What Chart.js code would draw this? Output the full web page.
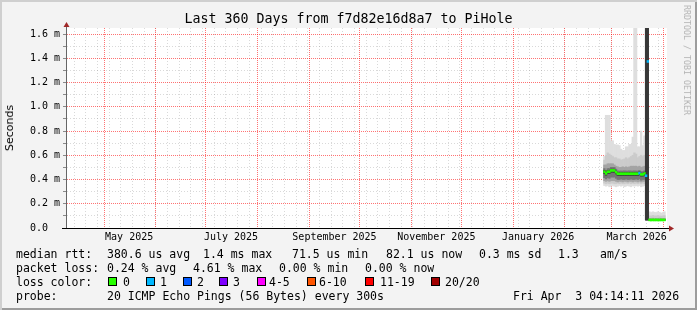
<!DOCTYPE html>
<html>
<head>
<meta charset="utf-8">
<title>Last 360 Days from f7d82e16d8a7 to PiHole</title>
<script src="https://cdn.jsdelivr.net/npm/chart.js@4.4.1/dist/chart.umd.min.js"></script>
<style>
  html, body { margin: 0; padding: 0; background: #f3f3f3; }
  #wrap { position: relative; width: 697px; height: 310px; background: #f3f3f3; overflow: hidden;
          box-shadow: inset 2px 2px 0 #cfcfcf, inset -2px -2px 0 #9c9c9c; }
  #chart { position: absolute; left: 0; top: 0; }
  .txt { position: absolute; font-family: "DejaVu Sans Mono", monospace; font-size: 11.5px; color: #000;
         white-space: pre; line-height: 14px; }
  #title { left: 0; top: 11px; width: 697px; text-align: center; font-size: 13.3px; line-height: 16px; }
  #ylab { font-family: "DejaVu Sans", sans-serif; font-size: 11px; left: 10px; top: 128px;
          transform: translate(-50%, -50%) rotate(-90deg); }
  #mark { font-size: 8.3px; color: #b4b4b4; left: 687px; top: 60px; line-height: 10px;
          transform: translate(-50%, -50%) rotate(90deg); }
  .box { position: absolute; width: 7px; height: 7px; border: 1px solid #000; }
</style>
</head>
<body>
<div id="wrap">
  <canvas id="chart" width="697" height="310"></canvas>
  <div class="txt" id="title">Last 360 Days from f7d82e16d8a7 to PiHole</div>
  <div class="txt" id="ylab">Seconds</div>
  <div class="txt" id="mark">RRDTOOL / TOBI OETIKER</div>

  <div class="txt" style="left:16px;top:247px">median rtt:</div>
  <div class="txt" style="left:107px;top:247px">380.6 us avg</div>
  <div class="txt" style="left:203px;top:247px">1.4 ms max</div>
  <div class="txt" style="left:292px;top:247px">71.5 us min</div>
  <div class="txt" style="left:386px;top:247px">82.1 us now</div>
  <div class="txt" style="left:479px;top:247px">0.3 ms sd</div>
  <div class="txt" style="left:558px;top:247px">1.3</div>
  <div class="txt" style="left:600px;top:247px">am/s</div>

  <div class="txt" style="left:16px;top:261px">packet loss:</div>
  <div class="txt" style="left:107px;top:261px">0.24 % avg</div>
  <div class="txt" style="left:193px;top:261px">4.61 % max</div>
  <div class="txt" style="left:279px;top:261px">0.00 % min</div>
  <div class="txt" style="left:365px;top:261px">0.00 % now</div>

  <div class="txt" style="left:16px;top:275px">loss color:</div>
  <div id="losslegend"></div>

  <div class="txt" style="left:16px;top:289px">probe:</div>
  <div class="txt" style="left:107px;top:289px">20 ICMP Echo Pings (56 Bytes) every 300s</div>
  <div class="txt" style="left:513px;top:289px">Fri Apr  3 04:14:11 2026</div>
</div>
<script>
// data: one value per day, days counted from the start of the 360 day window
const days = [322, 323, 324, 325, 326, 327, 328, 329, 330, 331, 332, 333, 334, 335, 336, 337, 338, 339, 340, 341,
              342, 343, 344, 345, 346, 347, 348, 349, 350, 351, 352, 353, 354, 355, 356, 357, 358];

const median = [0.464, 0.45, 0.464, 0.464, 0.475, 0.475, 0.475, 0.46, 0.448, 0.447, 0.448, 0.447, 0.448, 0.447, 0.448,
                0.447, 0.448, 0.447, 0.448, 0.447, 0.448, 0.452, 0.442, 0.442, 0.45, 0.431, 1.374,
                0.067, 0.066, 0.067, 0.066, 0.067, 0.066, 0.066, 0.067, 0.066, 0.067];
// index into lossColors
const loss = [0, 0, 0, 0, 0, 0, 0, 0, 0, 0, 0, 0, 0, 0, 0, 0, 0, 0, 0, 0, 0, 1, 0, 0, 0, 1, 1,
              0, 0, 0, 0, 0, 0, 0, 0, 0, 0];

// smoke: sorted ping percentiles
const rttMin = [0.35, 0.345, 0.35, 0.34, 0.345, 0.35, 0.345, 0.34, 0.345, 0.35, 0.345, 0.35, 0.34, 0.345, 0.35,
                0.345, 0.34, 0.35, 0.345, 0.35, 0.345, 0.35, 0.34, 0.345, 0.35, 0.066, 0.066,
                0.063, 0.063, 0.063, 0.063, 0.063, 0.063, 0.063, 0.063, 0.063, 0.063];
const rtt10 = [0.37, 0.365, 0.37, 0.365, 0.37, 0.37, 0.365, 0.365, 0.37, 0.365, 0.37, 0.365, 0.365, 0.37, 0.365,
               0.37, 0.365, 0.37, 0.365, 0.37, 0.365, 0.37, 0.365, 0.37, 0.365, 0.066, 0.066,
               0.064, 0.064, 0.064, 0.064, 0.064, 0.064, 0.064, 0.064, 0.064, 0.064];
const rtt25 = [0.39, 0.385, 0.39, 0.385, 0.39, 0.39, 0.39, 0.385, 0.38, 0.385, 0.385, 0.38, 0.385, 0.385, 0.38,
               0.385, 0.385, 0.38, 0.385, 0.385, 0.38, 0.385, 0.38, 0.385, 0.385, 0.066, 0.066,
               0.065, 0.065, 0.065, 0.065, 0.065, 0.065, 0.065, 0.065, 0.065, 0.065];
const rtt40 = [0.415, 0.405, 0.415, 0.41, 0.42, 0.42, 0.42, 0.41, 0.4, 0.4, 0.405, 0.4, 0.4, 0.405, 0.4,
               0.4, 0.405, 0.4, 0.4, 0.405, 0.4, 0.405, 0.395, 0.4, 0.4, 0.066, 0.066,
               0.065, 0.065, 0.065, 0.065, 0.065, 0.065, 0.065, 0.065, 0.065, 0.065];
const rtt45 = [0.45, 0.436, 0.45, 0.45, 0.46, 0.46, 0.46, 0.446, 0.434, 0.433, 0.434, 0.433, 0.434, 0.433, 0.434,
               0.433, 0.434, 0.433, 0.434, 0.433, 0.434, 0.438, 0.428, 0.428, 0.436, 0.066, 0.066,
               0.066, 0.066, 0.066, 0.066, 0.066, 0.066, 0.066, 0.066, 0.066, 0.066];
const rtt55 = [0.474, 0.46, 0.474, 0.474, 0.485, 0.485, 0.485, 0.47, 0.458, 0.457, 0.458, 0.457, 0.458, 0.457, 0.458,
               0.457, 0.458, 0.457, 0.458, 0.457, 0.458, 0.462, 0.452, 0.452, 0.46, 1.8, 1.8,
               0.068, 0.068, 0.068, 0.068, 0.068, 0.068, 0.068, 0.068, 0.068, 0.068];
const rtt60 = [0.49, 0.475, 0.49, 0.49, 0.5, 0.5, 0.5, 0.485, 0.47, 0.47, 0.47, 0.47, 0.472, 0.47, 0.47,
               0.472, 0.47, 0.47, 0.472, 0.47, 0.47, 0.475, 0.465, 0.465, 0.472, 1.8, 1.8,
               0.071, 0.07, 0.071, 0.07, 0.071, 0.07, 0.071, 0.07, 0.071, 0.07];
const rtt75 = [0.52, 0.52, 0.53, 0.53, 0.53, 0.53, 0.52, 0.51, 0.505, 0.5, 0.5, 0.505, 0.5, 0.505, 0.5,
               0.505, 0.51, 0.51, 0.51, 0.51, 0.505, 0.51, 0.5, 0.505, 0.51, 1.8, 1.8,
               0.08, 0.079, 0.081, 0.08, 0.079, 0.08, 0.081, 0.079, 0.08, 0.08];
const rtt90 = [0.56, 0.6, 0.62, 0.61, 0.6, 0.59, 0.58, 0.58, 0.57, 0.57, 0.56, 0.565, 0.57, 0.58, 0.57,
               0.58, 0.59, 0.6, 0.62, 0.61, 0.58, 0.59, 0.6, 0.59, 0.6, 1.8, 1.8,
               0.1, 0.098, 0.104, 0.1, 0.099, 0.103, 0.1, 0.097, 0.1, 0.102];
const rttMax = [0.59, 0.93, 0.93, 0.93, 0.72, 0.72, 0.69, 0.685, 0.685, 0.68, 0.65, 0.64, 0.64, 0.67, 0.67,
                0.69, 0.69, 0.75, 1.8, 1.8, 0.67, 0.67, 0.8, 0.68, 0.76, 1.8, 1.8,
                0.134, 0.128, 0.134, 0.13, 0.128, 0.134, 0.13, 0.122, 0.128, 0.134];

const lossLabels = ['0', '1', '2', '3', '4-5', '6-10', '11-19', '20/20'];
const lossColors = ['#26ff00', '#00b8ff', '#0059ff', '#7e00ff', '#ff00ff', '#ff5500', '#ff0000', '#a10000'];

const xLabelMonths = ['2025-05', '2025-07', '2025-09', '2025-11', '2026-01', '2026-03'];
const xTickLabels = ['May 2025', 'July 2025', 'September 2025', 'November 2025', 'January 2026', 'March 2026'];
const yTickValues = [0, 0.2, 0.4, 0.6, 0.8, 1.0, 1.2, 1.4, 1.6];
const yTickLabels = ['0.0  ', '0.2 m', '0.4 m', '0.6 m', '0.8 m', '1.0 m', '1.2 m', '1.4 m', '1.6 m'];

// time axis
const DAY = 864e5;
const END = Date.UTC(2026, 3, 3, 4, 14, 11);
const START = END - 360 * DAY;
const toDay = (y, m, d) => (Date.UTC(y, m, d) - START) / DAY;

const xTicks = [];
for (let t = toDay(2025, 3, 13); t < 360; t += 7) xTicks.push({ value: t, kind: 'week' });
for (let m = 4; m <= 15; m++) xTicks.push({ value: toDay(2025, m, 1), kind: 'month' });
xLabelMonths.forEach((s, i) => {
  const [y, mo] = s.split('-').map(Number);
  xTicks.push({ value: toDay(y, mo - 1, 1) + 15, kind: 'label', text: xTickLabels[i] });
});
xTicks.sort((a, b) => a.value - b.value);

const RED = 'rgba(255,0,0,0.55)';
const GRAY = 'rgba(128,128,128,0.3)';
const NONE = 'rgba(0,0,0,0)';
const MEDIAN_HALF = 0.008;

// loss legend
const legendBoxX = [108, 146, 183, 219, 257, 307, 365, 431];
const legendTextX = [123, 160, 197, 233, 269, 319, 380, 445];
const lossLegend = document.getElementById('losslegend');
lossLabels.forEach((lab, i) => {
  const b = document.createElement('div');
  b.className = 'box';
  b.style.left = legendBoxX[i] + 'px';
  b.style.top = '277px';
  b.style.background = lossColors[i];
  lossLegend.appendChild(b);
  const t = document.createElement('div');
  t.className = 'txt';
  t.style.left = legendTextX[i] + 'px';
  t.style.top = '275px';
  t.textContent = lab;
  lossLegend.appendChild(t);
});

// smoke bands, outermost first
const bands = [
  { lo: rttMin, hi: rttMax, color: '#dedede' },
  { lo: rtt10, hi: rtt90, color: '#cbcbcb' },
  { lo: rtt25, hi: rtt75, color: '#a4a4a4' },
  { lo: rtt40, hi: rtt60, color: '#767676' },
  { lo: rtt45, hi: rtt55, color: '#383838' },
];

const barCommon = { grouped: false, barPercentage: 1, categoryPercentage: 1, borderWidth: 0 };

const datasets = bands.map((b, k) => ({
  ...barCommon,
  type: 'bar',
  order: 10 - k,
  backgroundColor: b.color,
  data: days.map((d, i) => ({ x: d + 0.5, y: [b.lo[i], b.hi[i]] })),
}));

datasets.push({
  ...barCommon,
  type: 'bar',
  order: 0,
  backgroundColor: loss.map(l => lossColors[l]),
  data: days.map((d, i) => ({ x: d + 0.5, y: [median[i] - MEDIAN_HALF, median[i] + MEDIAN_HALF] })),
});

const frame = {
  id: 'frame',
  beforeDraw(chart) {
    const { ctx, chartArea: a } = chart;
    ctx.save();
    ctx.fillStyle = '#ffffff';
    ctx.fillRect(a.left, a.top, a.right - a.left, a.bottom - a.top);
    ctx.restore();
  },
  afterDraw(chart) {
    const { ctx, chartArea: a } = chart;
    ctx.save();
    ctx.strokeStyle = '#000';
    ctx.lineWidth = 1;
    ctx.beginPath();
    ctx.moveTo(a.left - 4, a.bottom + 0.5);
    ctx.lineTo(a.right + 3, a.bottom + 0.5);
    ctx.stroke();
    ctx.strokeStyle = '#666';
    ctx.beginPath();
    ctx.moveTo(a.left + 0.5, a.bottom);
    ctx.lineTo(a.left + 0.5, a.top - 2);
    ctx.stroke();
    // arrows
    ctx.fillStyle = '#a02828';
    ctx.beginPath();
    ctx.moveTo(a.right + 2, a.bottom - 2.5);
    ctx.lineTo(a.right + 7, a.bottom + 0.5);
    ctx.lineTo(a.right + 2, a.bottom + 3.5);
    ctx.fill();
    ctx.beginPath();
    ctx.moveTo(a.left - 2.5, a.top - 1);
    ctx.lineTo(a.left + 0.5, a.top - 6);
    ctx.lineTo(a.left + 3.5, a.top - 1);
    ctx.fill();
    ctx.restore();
  }
};

Chart.defaults.font.family = '"DejaVu Sans Mono", monospace';
Chart.defaults.color = '#000';

new Chart(document.getElementById('chart'), {
  type: 'bar',
  data: { datasets },
  plugins: [frame],
  options: {
    responsive: false,
    animation: false,
    events: [],
    layout: { padding: { left: 0, top: 28, right: 30, bottom: 0 } },
    plugins: { legend: { display: false }, tooltip: { enabled: false }, title: { display: false } },
    scales: {
      x: {
        type: 'linear',
        min: 0,
        max: 360,
        offset: false,
        z: 1,
        afterBuildTicks: s => { s.ticks = xTicks.map(t => ({ ...t })); },
        afterFit: s => { s.height = 82; },
        grid: {
          offset: false,
          drawTicks: false,
          color: c => {
            if (!c.tick) return NONE;
            return c.tick.kind === 'month' ? RED : c.tick.kind === 'week' ? GRAY : NONE;
          },
          lineWidth: c => (c.tick && c.tick.kind === 'label') ? 0 : 1,
        },
        border: {
          color: '#000',
          dash: c => (c.tick && c.tick.kind === 'month') ? [1, 1] : [1, 2],
        },
        ticks: {
          autoSkip: false,
          maxRotation: 0,
          minRotation: 0,
          padding: 3,
          font: { size: 10 },
          color: '#000',
          callback: (v, i, ticks) => ticks[i].text || '',
        },
      },
      y: {
        min: 0,
        max: 1.65,
        z: 1,
        afterBuildTicks: s => { s.ticks = Array.from({ length: 17 }, (_, i) => ({ value: i / 10 })); },
        afterFit: s => { s.width = 66; },
        grid: {
          color: c => {
            if (!c.tick || c.tick.value === 0) return NONE;
            return yTickValues.some(v => Math.abs(v - c.tick.value) < 1e-6) ? RED : GRAY;
          },
          tickColor: '#8a8a8a',
          tickLength: 3,
          tickBorderDash: [],
        },
        border: {
          color: '#666',
          dash: c => (c.tick && yTickValues.some(v => Math.abs(v - c.tick.value) < 1e-6)) ? [1, 1] : [1, 2],
        },
        ticks: {
          autoSkip: false,
          padding: 3,
          font: { size: 10 },
          color: '#000',
          callback: v => {
            const k = yTickValues.findIndex(t => Math.abs(t - v) < 1e-6);
            return k >= 0 ? yTickLabels[k] : '';
          },
        },
      },
    },
  },
});
</script>
</body>
</html>
